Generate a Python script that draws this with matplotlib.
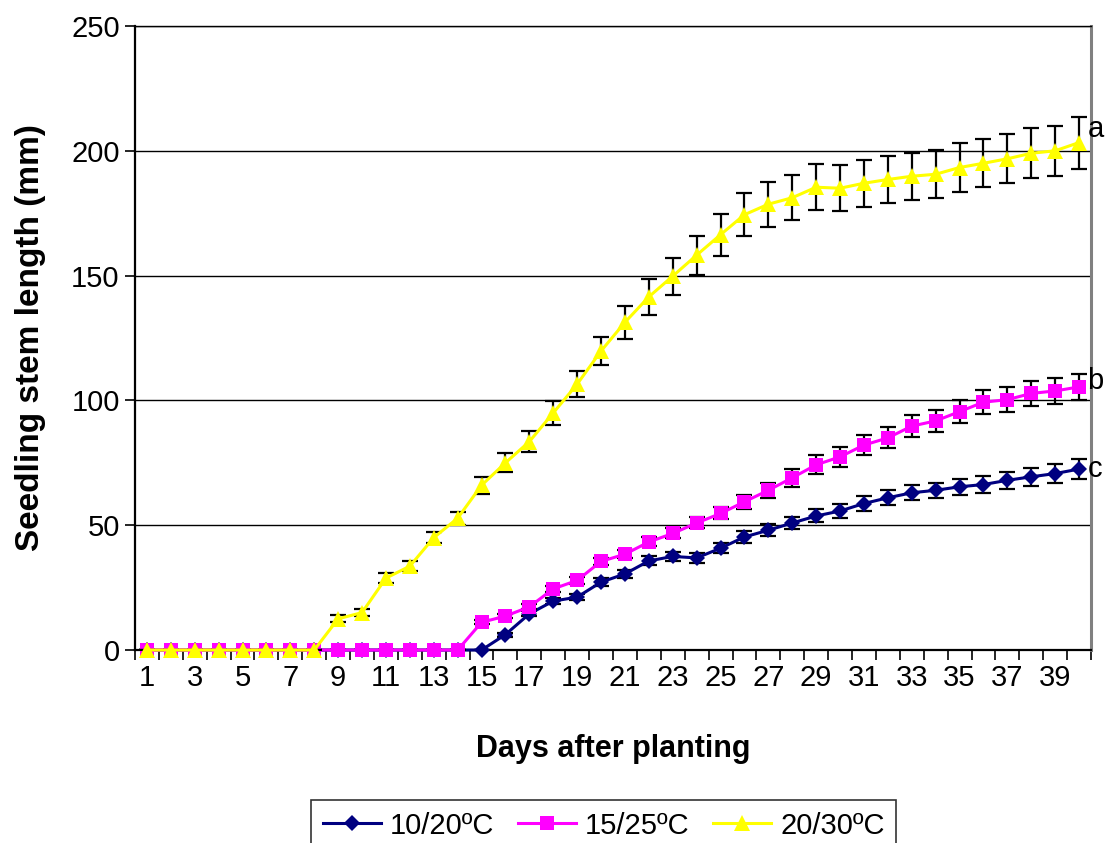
import matplotlib

matplotlib.use("Agg")
import matplotlib.pyplot as plt
from matplotlib.ticker import FixedLocator, NullFormatter

plt.rcParams["font.family"] = ["Liberation Sans", "DejaVu Sans"]

FONT_SIZE_TICKS = 21
FONT_SIZE_X_LABEL = 22
FONT_SIZE_Y_LABEL = 24
FONT_SIZE_LEGEND = 21

DAYS = list(range(1, 41))

LOW_VALUES = [0] * 15 + [
    6.2, 14.5, 19.6, 21.2, 27.2, 30.5, 35.7, 37.5, 36.9, 40.8,
    45.3, 48.0, 50.9, 53.7, 55.7, 58.7, 61.0, 63.0, 64.0, 65.4,
    66.3, 68.0, 69.4, 70.7, 72.5,
]
LOW_ERRORS = [0] * 15 + [
    0.8, 1.0, 1.2, 1.3, 1.5, 1.6, 1.8, 1.9, 2.0, 2.1,
    2.3, 2.5, 2.5, 2.6, 2.7, 2.9, 3.0, 3.0, 3.1, 3.2,
    3.3, 3.5, 3.6, 3.8, 4.0,
]

MID_VALUES = [0] * 14 + [
    11.1, 13.6, 17.3, 24.5, 27.9, 35.5, 38.4, 43.3, 46.7, 50.9,
    54.7, 59.4, 64.0, 69.0, 74.2, 77.4, 82.1, 85.0, 89.7, 91.8,
    95.5, 99.3, 100.3, 102.8, 103.8, 105.4,
]
MID_ERRORS = [0] * 14 + [
    0.8, 0.9, 1.0, 1.2, 1.3, 1.5, 1.6, 1.8, 2.0, 2.2,
    2.4, 2.8, 3.0, 3.5, 3.8, 3.9, 4.1, 4.2, 4.5, 4.5,
    4.7, 4.8, 5.0, 5.1, 5.1, 5.3,
]

HIGH_VALUES = [0] * 8 + [
    12.5, 15.0, 28.8, 33.6, 45.0, 52.8, 66.0, 75.0, 83.5, 95.0,
    106.5, 119.8, 131.3, 141.5, 149.8, 158.2, 166.4, 174.4, 178.6, 181.2,
    185.4, 185.0, 187.0, 188.5, 189.8, 190.6, 193.3, 195.0, 196.8, 199.0,
    200.0, 203.3,
]
HIGH_ERRORS = [0] * 8 + [
    1.4, 1.5, 1.9, 2.0, 2.3, 2.6, 3.3, 3.8, 4.1, 4.7,
    5.2, 5.7, 6.7, 7.2, 7.4, 7.8, 8.4, 8.7, 9.0, 9.1,
    9.3, 9.3, 9.4, 9.4, 9.5, 9.6, 9.7, 9.7, 9.8, 10.0,
    10.0, 10.4,
]

SERIES_LABELS = ["10/20ºC", "15/25ºC", "20/30ºC"]
GROUP_LETTERS = ["c", "b", "a"]

Y_TICKS = [0, 50, 100, 150, 200, 250]
X_TICK_LABELS = list(range(1, 41, 2))

STYLES = [
    {"color": "#000080", "marker": "D", "markersize": 8.5, "letter_offset": (6, 0)},
    {"color": "#FF00FF", "marker": "s", "markersize": 10.5, "letter_offset": (6, 4)},
    {"color": "#FFFF00", "marker": "^", "markersize": 11.5, "letter_offset": (6, 10)},
]


def main() -> None:
    fig = plt.figure(figsize=(11.08, 8.43), dpi=100)
    ax = fig.add_axes([0.1218, 0.2289, 0.8629, 0.7403])

    series = [
        (LOW_VALUES, LOW_ERRORS),
        (MID_VALUES, MID_ERRORS),
        (HIGH_VALUES, HIGH_ERRORS),
    ]

    for i, ((values, errors), label, letter, style) in enumerate(
        zip(series, SERIES_LABELS, GROUP_LETTERS, STYLES, strict=True)
    ):
        ax.errorbar(
            DAYS,
            values,
            yerr=errors,
            fmt="none",
            ecolor="black",
            elinewidth=1.6,
            capsize=5.5,
            capthick=1.6,
            zorder=2 + i * 2,
        )
        ax.plot(
            DAYS,
            values,
            color=style["color"],
            marker=style["marker"],
            markersize=style["markersize"],
            markeredgewidth=0,
            linewidth=2.2,
            label=label,
            zorder=3 + i * 2,
            clip_on=False,
        )
        ax.annotate(
            letter,
            xy=(DAYS[-1], values[-1]),
            xytext=style["letter_offset"],
            textcoords="offset points",
            ha="left",
            va="center",
            fontsize=FONT_SIZE_TICKS,
            zorder=10,
        )

    ax.set_xlim(0.5, 40.5)
    ax.set_ylim(0, 250)

    ax.xaxis.set_major_locator(FixedLocator(X_TICK_LABELS))
    ax.xaxis.set_minor_locator(FixedLocator([d + 0.5 for d in range(0, 41)]))
    ax.xaxis.set_minor_formatter(NullFormatter())
    ax.tick_params(axis="x", which="major", length=0, pad=10, labelsize=FONT_SIZE_TICKS)
    ax.tick_params(axis="x", which="minor", length=7, width=1.2, direction="out")

    ax.set_yticks(Y_TICKS)
    ax.tick_params(axis="y", length=7, width=1.2, direction="out", pad=4, labelsize=FONT_SIZE_TICKS)

    ax.yaxis.grid(True, color="black", linewidth=1.0)
    ax.set_axisbelow(True)

    ax.spines["top"].set_color("black")
    ax.spines["top"].set_linewidth(1.0)
    ax.spines["right"].set_color("#808080")
    ax.spines["right"].set_linewidth(2.2)
    ax.spines["left"].set_linewidth(1.6)
    ax.spines["bottom"].set_linewidth(1.6)

    ax.set_xlabel("Days after planting", fontsize=FONT_SIZE_X_LABEL, fontweight="bold", labelpad=30)
    ax.set_ylabel("Seedling stem length (mm)", fontsize=FONT_SIZE_Y_LABEL, fontweight="bold", labelpad=18)

    legend = fig.legend(
        loc="upper center",
        bbox_to_anchor=(0.545, 0.051),
        borderaxespad=0,
        ncol=3,
        fontsize=FONT_SIZE_LEGEND,
        frameon=True,
        fancybox=False,
        edgecolor="black",
        handlelength=2.0,
        handletextpad=0.3,
        columnspacing=0.8,
        borderpad=0.4,
    )
    legend.get_frame().set_linewidth(1.2)

    fig.savefig("out.png", dpi=100)
    plt.close(fig)


if __name__ == "__main__":
    main()
